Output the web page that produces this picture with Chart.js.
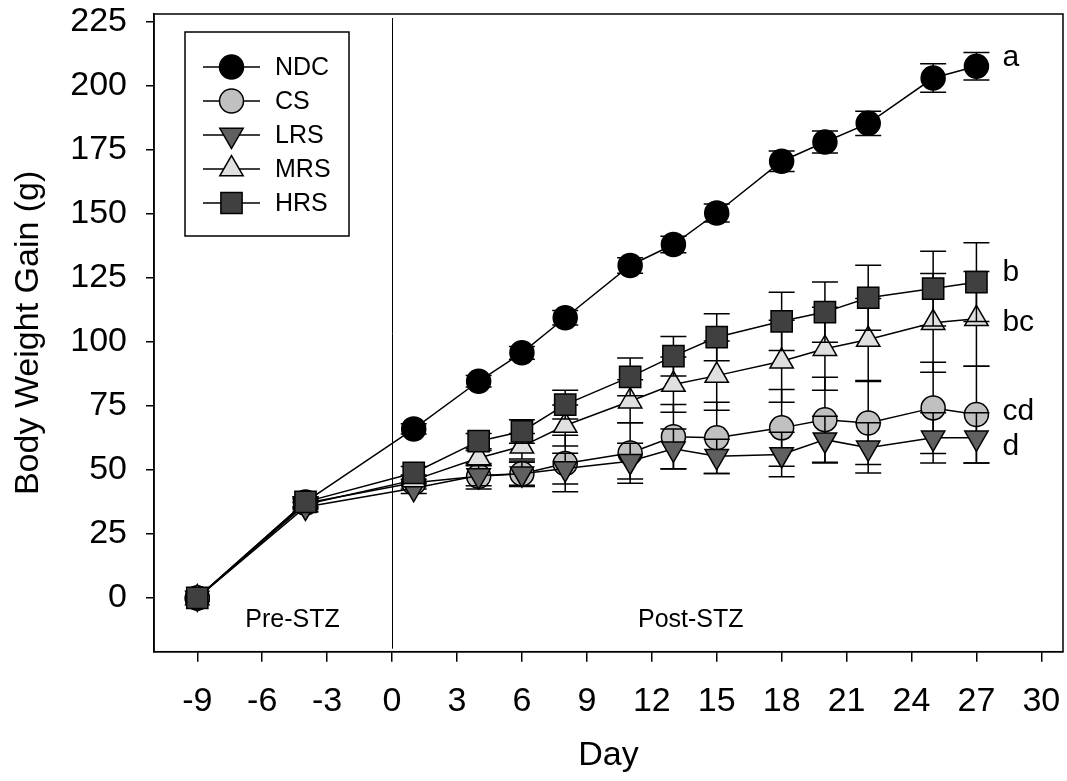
<!DOCTYPE html>
<html>
<head>
<meta charset="utf-8">
<title>Body Weight Gain</title>
<script src="https://cdn.jsdelivr.net/npm/chart.js@4.4.1/dist/chart.umd.min.js"></script>
<style>
  html, body { margin: 0; padding: 0; background: #fff; }
  canvas { display: block; }
</style>
</head>
<body>
<canvas id="weightChart" width="1067" height="781"></canvas>
<script>
// data
const days = [-9, -4, 1, 4, 6, 8, 11, 13, 15, 18, 20, 22, 25, 27];
const groupNames = ['NDC', 'CS', 'LRS', 'MRS', 'HRS'];

const ndcMean = [0, 37.5, 66, 84.6, 95.7, 109.4, 129.8, 138, 150.3, 170.5, 178, 185.3, 203, 207.6];
const ndcErr  = [0, 2, 2, 2.2, 2.5, 2.8, 3, 3.2, 3.5, 4, 4.3, 4.7, 5.6, 5.4];
const csMean  = [0, 37, 45, 47.5, 48.5, 52.5, 56.6, 62.9, 62.5, 66.4, 69.6, 68.3, 74.2, 71.6];
const csErr   = [0, 2, 2.5, 5, 4.5, 11, 11.8, 12.6, 13.9, 15, 16.6, 16.2, 17.8, 18.9];
const lrsMean = [0, 35.5, 42.8, 47.8, 48.5, 50.5, 53.4, 58.2, 55.3, 56, 61.8, 58.6, 62.5, 62.5];
const lrsErr  = [0, 2, 2, 4, 5, 6, 7, 7.8, 6.7, 8.7, 9.1, 9.8, 9.8, 9.8];
const mrsMean = [0, 36.5, 46, 54.6, 59.2, 67.3, 76.8, 83.3, 86.8, 92.4, 97.3, 100.9, 107.4, 109];
const mrsErr  = [0, 2, 2, 3, 5, 8, 8.4, 10.8, 13.5, 16, 16.2, 16, 19.3, 18.5];
const hrsMean = [0, 37.5, 48.8, 61.2, 65, 75.5, 86.3, 94.4, 101.8, 108, 111.6, 117.2, 120.8, 123.3];
const hrsErr  = [0, 2, 2.5, 3, 4.6, 5.6, 7.4, 7.7, 9.2, 11.4, 11.8, 12.7, 14.6, 15.4];

const sigLetters = ['a', 'cd', 'd', 'bc', 'b'];
const xTicks = [-9, -6, -3, 0, 3, 6, 9, 12, 15, 18, 21, 24, 27, 30];
const yTicks = [0, 25, 50, 75, 100, 125, 150, 175, 200, 225];
const phaseLabels = ['Pre-STZ', 'Post-STZ'];

const means = [ndcMean, csMean, lrsMean, mrsMean, hrsMean];
const errs = [ndcErr, csErr, lrsErr, mrsErr, hrsErr];

const FONT = "'Liberation Sans', Arial, sans-serif";

// marker look per group (NDC, CS, LRS, MRS, HRS)
const styles = [
    { fill: '#000000', shape: 'circle', radius: 12, rotation: 0, order: 5, letterDy: 0 },
    { fill: '#c0c0c0', shape: 'circle', radius: 12, rotation: 0, order: 4, letterDy: 5 },
    { fill: '#606060', shape: 'triangle', radius: 13.5, rotation: 180, order: 3, letterDy: 17 },
    { fill: '#e0e0e0', shape: 'triangle', radius: 13.5, rotation: 0, order: 2, letterDy: 12 },
    { fill: '#404040', shape: 'rect', radius: 15, rotation: 0, order: 1, letterDy: -1 }
];

function marker(ctx, st, x, y) {
    ctx.save();
    ctx.fillStyle = st.fill;
    ctx.strokeStyle = '#000';
    ctx.lineWidth = 1.5;
    Chart.helpers.drawPoint(ctx, { pointStyle: st.shape, radius: st.radius, rotation: st.rotation, borderWidth: 1.5 }, x, y);
    ctx.restore();
}

// scales should not push the plot area around
function noPad(s) {
    s.paddingTop = 0; s.paddingBottom = 0; s.paddingLeft = 0; s.paddingRight = 0;
}

const errorBarPlugin = {
    id: 'errorBars',
    beforeDatasetDraw(chart, args) {
        const ds = chart.data.datasets[args.index];
        const yScale = chart.scales.y;
        const ctx = chart.ctx;
        ctx.save();
        ctx.strokeStyle = '#000';
        ctx.lineWidth = 1.5;
        args.meta.data.forEach((pt, i) => {
            const e = ds.errorBars[i];
            if (!e) return;
            const v = ds.data[i].y;
            const yHi = yScale.getPixelForValue(v + e);
            const yLo = yScale.getPixelForValue(v - e);
            ctx.beginPath();
            ctx.moveTo(pt.x, yHi); ctx.lineTo(pt.x, yLo);
            ctx.moveTo(pt.x - 13, yHi); ctx.lineTo(pt.x + 13, yHi);
            ctx.moveTo(pt.x - 13, yLo); ctx.lineTo(pt.x + 13, yLo);
            ctx.stroke();
        });
        ctx.restore();
    }
};

const decorPlugin = {
    id: 'decor',
    beforeDatasetsDraw(chart) {
        const { ctx, chartArea: a, scales: { x } } = chart;
        const x0 = Math.round(x.getPixelForValue(0)) + 0.5;
        ctx.save();
        ctx.strokeStyle = '#000';
        ctx.lineWidth = 1;
        ctx.beginPath();
        ctx.moveTo(x0, a.top + 4);
        ctx.lineTo(x0, a.bottom - 3);
        ctx.stroke();
        ctx.restore();
    },
    afterDraw(chart) {
        const { ctx, chartArea: a, scales: { x, y } } = chart;
        ctx.save();
        // frame
        ctx.strokeStyle = '#000';
        ctx.lineWidth = 1.5;
        ctx.strokeRect(a.left, a.top, a.right - a.left, a.bottom - a.top);

        // phase labels
        ctx.fillStyle = '#000';
        ctx.font = '25px ' + FONT;
        ctx.textAlign = 'center';
        ctx.textBaseline = 'alphabetic';
        ctx.fillText(phaseLabels[0], x.getPixelForValue(-4.6), y.getPixelForValue(-11.2));
        ctx.fillText(phaseLabels[1], x.getPixelForValue(13.8), y.getPixelForValue(-11.2));

        // significance letters next to the last point
        ctx.font = '30px ' + FONT;
        ctx.textAlign = 'left';
        const last = days.length - 1;
        sigLetters.forEach((txt, k) => {
            const px = x.getPixelForValue(days[last]) + 26;
            const py = y.getPixelForValue(means[k][last]) + styles[k].letterDy;
            ctx.fillText(txt, px, py);
        });

        // legend box
        const bx = 185, by = 32, bw = 164, bh = 204;
        ctx.lineWidth = 1.5;
        ctx.strokeRect(bx, by, bw, bh);
        ctx.font = '25px ' + FONT;
        ctx.textBaseline = 'middle';
        groupNames.forEach((name, k) => {
            const ry = by + 35 + k * 34;
            ctx.strokeStyle = '#000';
            ctx.lineWidth = 1.5;
            ctx.beginPath();
            ctx.moveTo(203, ry); ctx.lineTo(260, ry);
            ctx.stroke();
            marker(ctx, styles[k], 231.5, ry);
            ctx.fillStyle = '#000';
            ctx.fillText(name, 275, ry + 1);
        });
        ctx.restore();
    }
};

const datasets = groupNames.map((name, k) => ({
    label: name,
    data: days.map((d, i) => ({ x: d, y: means[k][i] })),
    errorBars: errs[k],
    order: styles[k].order,
    borderColor: '#000',
    borderWidth: 1.5,
    tension: 0,
    fill: false,
    pointStyle: styles[k].shape,
    pointRotation: styles[k].rotation,
    pointRadius: styles[k].radius,
    pointHoverRadius: styles[k].radius,
    pointBackgroundColor: styles[k].fill,
    pointBorderColor: '#000',
    pointBorderWidth: 1.5
}));

const tickFont = { family: FONT, size: 34 };

new Chart(document.getElementById('weightChart'), {
    type: 'line',
    data: { datasets },
    plugins: [errorBarPlugin, decorPlugin],
    options: {
        responsive: false,
        animation: false,
        layout: { autoPadding: false, padding: { top: 14, right: 4, left: 0, bottom: 0 } },
        plugins: { legend: { display: false }, tooltip: { enabled: false } },
        scales: {
            x: {
                type: 'linear',
                min: -11,
                max: 31,
                afterBuildTicks: s => { s.ticks = xTicks.map(v => ({ value: v })); },
                afterFit: s => { s.height = 129.3; noPad(s); },
                ticks: { font: tickFont, color: '#000', padding: 20, maxRotation: 0, autoSkip: false },
                grid: { drawOnChartArea: false, drawTicks: true, tickLength: 10, color: '#000', lineWidth: 1.5 },
                border: { color: '#000', width: 1.5 },
                title: { display: true, text: 'Day', font: tickFont, color: '#000', padding: { top: 0, bottom: 5 } }
            },
            y: {
                min: -21,
                max: 228,
                afterBuildTicks: s => { s.ticks = yTicks.map(v => ({ value: v })); },
                afterFit: s => { s.width = 154; noPad(s); },
                ticks: { font: tickFont, color: '#000', padding: 19 },
                grid: { drawOnChartArea: false, drawTicks: true, tickLength: 8, color: '#000', lineWidth: 1.5 },
                border: { color: '#000', width: 1.5 },
                title: { display: true, text: 'Body Weight Gain (g)', font: tickFont, color: '#000', padding: { top: 8, bottom: 0 } }
            }
        }
    }
});
</script>
</body>
</html>
